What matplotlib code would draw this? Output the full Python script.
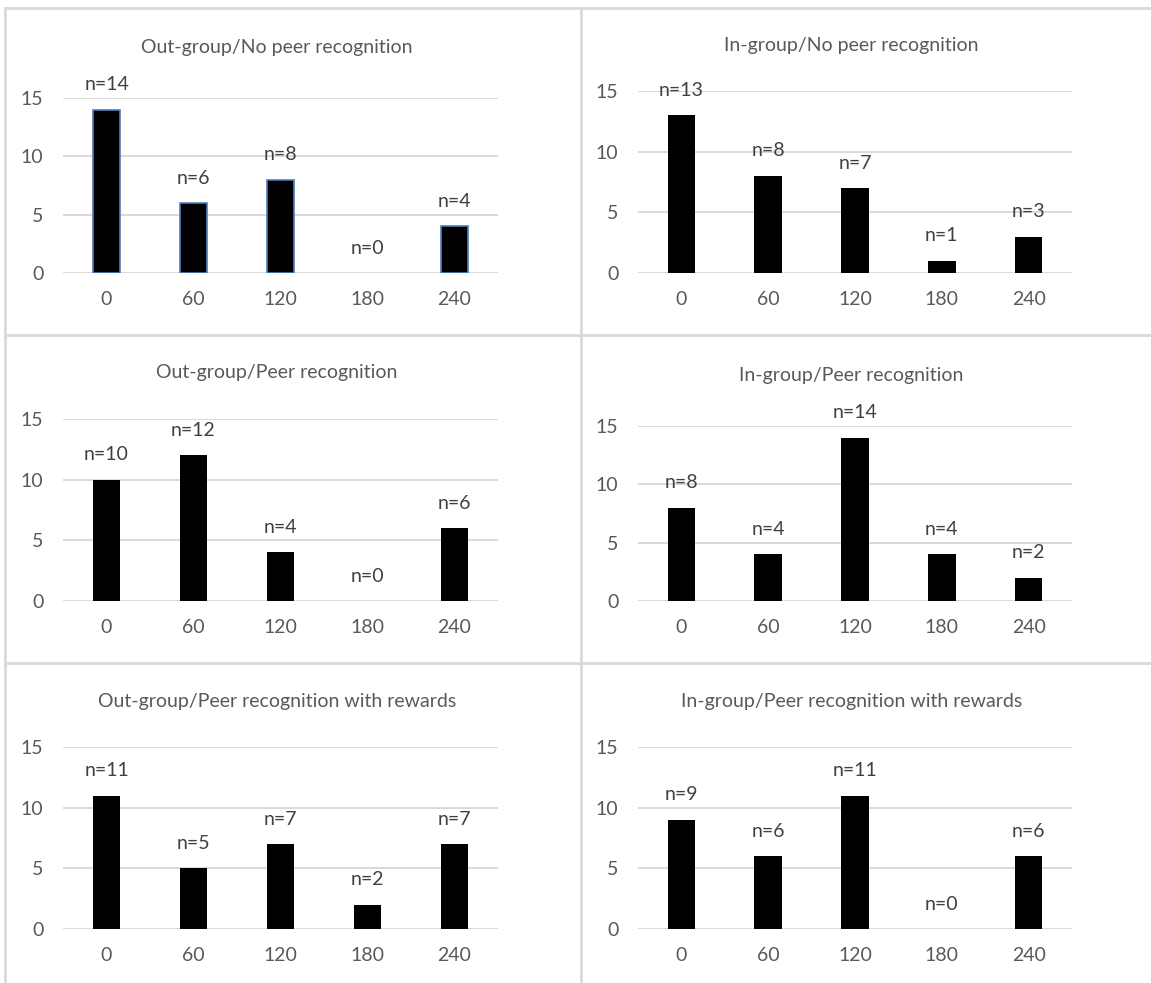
import matplotlib
matplotlib.use("Agg")
import matplotlib.pyplot as plt
from matplotlib.lines import Line2D

plt.rcParams["font.family"] = ["Lato", "DejaVu Sans"]

# minutes after the event (category axis) shared by all panels
delays = ["0", "60", "120", "180", "240"]

titles = [
    "Out-group/No peer recognition",
    "In-group/No peer recognition",
    "Out-group/Peer recognition",
    "In-group/Peer recognition",
    "Out-group/Peer recognition with rewards",
    "In-group/Peer recognition with rewards",
]

out_no_peer = [14, 6, 8, 0, 4]
in_no_peer = [13, 8, 7, 1, 3]
out_peer = [10, 12, 4, 0, 6]
in_peer = [8, 4, 14, 4, 2]
out_peer_rewards = [11, 5, 7, 2, 7]
in_peer_rewards = [9, 6, 11, 0, 6]

panel_counts = [out_no_peer, in_no_peer, out_peer, in_peer,
                out_peer_rewards, in_peer_rewards]

W, H = 1151, 983
fig = plt.figure(figsize=(W / 100, H / 100), dpi=100)

# plot boxes in pixels: left, right, top (y=15), bottom (y=0), title y
boxes = [
    (63, 498, 98, 273, 48),
    (638, 1072, 91, 273, 45),
    (63, 498, 419, 601, 373),
    (638, 1072, 426, 601, 376),
    (63, 498, 747, 929, 701),
    (638, 1072, 747, 929, 701),
]

grid_c = "#d9d9d9"
text_c = "#595959"

for i, (counts, title, box) in enumerate(zip(panel_counts, titles, boxes)):
    l, r, t, b, ty = box
    ax = fig.add_axes([l / W, 1 - b / H, (r - l) / W, (b - t) / H])
    xs = range(len(delays))
    edges = [("#4a7ebb" if i == 0 else "black") if v > 0 else "none"
             for v in counts]
    ax.bar(xs, counts, width=0.32, color="black", edgecolor=edges,
           linewidth=1.2 if i == 0 else 0, zorder=3)
    for x, v in zip(xs, counts):
        ax.annotate(f"n={v}", (x, v), xytext=(0, 25), textcoords="offset pixels",
                    ha="center", va="center", fontsize=14, color="#404040",
                    zorder=4)
    ax.set_xlim(-0.5, len(delays) - 0.5)
    ax.set_ylim(0, 15)
    ax.set_yticks([0, 5, 10, 15])
    ax.set_xticks(list(xs))
    ax.set_xticklabels(delays)
    ax.yaxis.grid(True, color=grid_c, linewidth=1.4, zorder=0)
    ax.set_axisbelow(True)
    for s in ax.spines.values():
        s.set_visible(False)
    ax.tick_params(length=0, labelsize=14, labelcolor=text_c)
    ax.tick_params(axis="y", pad=14)
    ax.tick_params(axis="x", pad=13)
    fig.text((l + r) / 2 / W - 0.003, 1 - ty / H, title, ha="center",
             va="center", fontsize=14, color=text_c)

# panel frame lines
def hline(y, x0, x1):
    fig.add_artist(Line2D([x0 / W, x1 / W], [1 - y / H, 1 - y / H],
                          color=grid_c, linewidth=2))

def vline(x, y0, y1):
    fig.add_artist(Line2D([x / W, x / W], [1 - y0 / H, 1 - y1 / H],
                          color=grid_c, linewidth=2))

hline(8, 5, W)
hline(335, 5, W)
hline(663, 5, W)
vline(5, 8, H)
vline(581, 8, H)

fig.savefig("out.png", dpi=100, facecolor="white")
